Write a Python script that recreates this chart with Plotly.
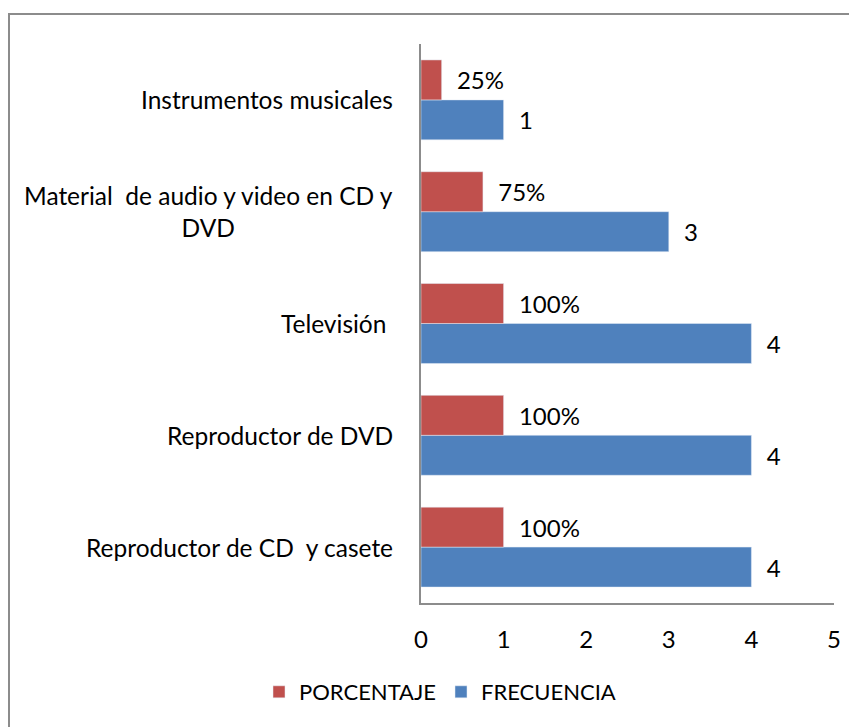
import plotly.graph_objects as go

categories = [
    "Reproductor de CD  y casete",
    "Reproductor de DVD",
    "Televisión ",
    "Material  de audio y video en CD y<br>DVD",
    "Instrumentos musicales",
]
frecuencia = [4, 4, 4, 3, 1]
porcentaje = [1.0, 1.0, 1.0, 0.75, 0.25]
porcentaje_labels = ["100%", "100%", "100%", "75%", "25%"]
x_ticks = [0, 1, 2, 3, 4, 5]

FONT = "Lato"
FS = 24
pad = "&nbsp;&nbsp;"

W, H = 849, 719
L, R, T, B = 413, 23, 36, 124
PW = W - L - R
PH = H - T - B

fig = go.Figure()
fig.add_trace(go.Bar(
    y=categories, x=frecuencia, orientation="h", name="FRECUENCIA",
    marker=dict(color="#4F81BD"),
    text=[f"{pad}{v}" for v in frecuencia], textposition="outside",
    textfont=dict(family=FONT, size=FS, color="black"), cliponaxis=False,
    legendrank=2,
))
fig.add_trace(go.Bar(
    y=categories, x=porcentaje, orientation="h", name="PORCENTAJE",
    marker=dict(color="#C0504D"),
    text=[f"{pad}{t}" for t in porcentaje_labels], textposition="outside",
    textfont=dict(family=FONT, size=FS, color="black"), cliponaxis=False,
    legendrank=1,
))

for c in categories:
    fig.add_annotation(
        x=0, xref="paper", y=c, yref="y", text=c, showarrow=False,
        xanchor="right", xshift=-26, align="center",
        font=dict(family=FONT, size=FS + 0.5, color="black"),
    )

# chart border
fig.add_shape(type="rect", xref="paper", yref="paper",
              x0=(1 - L) / PW, x1=1.2, y0=-0.4, y1=(PH + T - 6) / PH,
              line=dict(color="#8c8c8c", width=2), fillcolor="rgba(0,0,0,0)")

fig.update_layout(
    width=W, height=H,
    margin=dict(l=L, r=R, t=T, b=B),
    paper_bgcolor="white", plot_bgcolor="white",
    barmode="group", bargap=0.285, bargroupgap=0,
    font=dict(family=FONT, size=FS, color="black"),
    showlegend=True,
    legend=dict(orientation="h", x=(432 - L) / PW, xanchor="center",
                y=-(684 - (T + PH)) / PH, yanchor="middle",
                font=dict(family=FONT, size=22), itemwidth=30),
    xaxis=dict(range=[0, 5], tickvals=x_ticks, showgrid=False, zeroline=False,
               showline=True, linecolor="#8c8c8c", linewidth=2, ticks="",
               ticklabelstandoff=14, tickfont=dict(family=FONT, size=FS)),
    yaxis=dict(showticklabels=False, showgrid=False, zeroline=False,
               showline=True, linecolor="#8c8c8c", linewidth=2, ticks=""),
)

fig.write_html("out.html")
